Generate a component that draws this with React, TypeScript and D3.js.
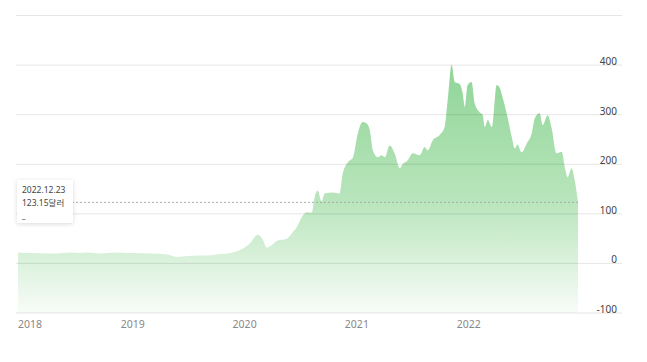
import React from "react";
import * as d3 from "d3";

const dates: string[] = [
  "2017-12-23","2018-01-20","2018-02-10","2018-03-28","2018-05-01","2018-06-11","2018-07-10","2018-08-05","2018-09-16","2018-10-15","2018-11-11","2018-12-10",
  "2019-01-02","2019-02-26","2019-04-23","2019-05-29","2019-06-27","2019-08-08","2019-08-31","2019-10-03","2019-11-24","2019-12-27",
  "2020-01-18","2020-02-13","2020-02-29","2020-03-13","2020-04-01","2020-04-18","2020-05-17","2020-06-06","2020-06-19","2020-07-05","2020-07-21","2020-08-07","2020-08-16","2020-08-26","2020-09-08","2020-09-18","2020-10-14","2020-11-06","2020-11-16","2020-12-09","2020-12-18",
  "2021-01-04","2021-01-20","2021-02-02","2021-02-12","2021-02-22","2021-03-10","2021-03-23","2021-04-02","2021-04-18","2021-05-04","2021-05-21","2021-05-30","2021-06-16","2021-07-02","2021-07-25","2021-08-10","2021-08-20","2021-09-05","2021-09-28","2021-10-14","2021-10-24","2021-11-06","2021-11-16","2021-12-02","2021-12-12","2021-12-19","2021-12-28",
  "2022-01-10","2022-01-20","2022-02-05","2022-02-15","2022-02-22","2022-03-04","2022-03-17","2022-04-02","2022-04-12","2022-04-21","2022-05-08","2022-05-21","2022-05-31","2022-06-09","2022-06-22","2022-07-09","2022-07-25","2022-08-04","2022-08-20","2022-08-30","2022-09-15","2022-09-28","2022-10-14","2022-10-31","2022-11-10","2022-11-19","2022-12-02","2022-12-12","2022-12-23"
];
const prices: number[] = [
  22,21,21,20,20,22,21,22,20,21,22,21,
  21,20,18,13,15,16,16,18,22,30,
  40,58,48,32,38,46,50,63,73,93,103,102,133,147,125,141,143,141,182,208,212,
  262,285,282,269,228,214,218,214,238,222,192,200,208,222,218,235,228,248,259,275,329,400,366,362,343,315,360,
  366,323,305,300,275,289,275,360,354,335,293,255,232,240,224,242,262,293,303,279,299,273,222,225,194,174,192,168,123.15
];
const yTicks: number[] = [-100, 0, 100, 200, 300, 400, 500];
const yearTicks: string[] = ["2018", "2019", "2020", "2021", "2022"];
const tipDate = "2022.12.23";
const tipValue = "123.15달러";
const lastValue = 123.15;

export default function App() {
  const parse = d3.timeParse("%Y-%m-%d");
  const data = dates.map((d, i) => ({ date: parse(d) as Date, v: prices[i] }));
  const x = d3.scaleTime()
    .domain([data[0].date, data[data.length - 1].date])
    .range([18, 578]);
  const y = d3.scaleLinear().domain([-100, 500]).range([313, 15.5]);
  const area = d3.area<{ date: Date; v: number }>()
    .x(d => x(d.date))
    .y0(y(-100))
    .y1(d => y(d.v))
    .curve(d3.curveMonotoneX);
  const font = "'Noto Sans', 'Noto Sans CJK KR', sans-serif";
  return (
    <svg width={647} height={362} style={{ position: "absolute", left: 0, top: 0, background: "#fff" }}>
      <defs>
        <linearGradient id="g" gradientUnits="userSpaceOnUse" x1={0} x2={0} y1={y(400)} y2={y(-100)}>
          <stop offset="0%" stopColor="#8fd597" />
          <stop offset="55%" stopColor="#b9e5bc" />
          <stop offset="100%" stopColor="#f8fcf8" />
        </linearGradient>
        <filter id="sh" x="-30%" y="-30%" width="160%" height="160%">
          <feDropShadow dx="0" dy="1" stdDeviation="2" floodColor="#000" floodOpacity="0.15" />
        </filter>
      </defs>
      <path d={area(data) || ""} fill="url(#g)" />
      {yTicks.map(t => (
        <line key={t} x1={16} x2={622} y1={y(t)} y2={y(t)} stroke="rgba(0,0,0,0.1)" strokeWidth={1} />
      ))}
      {yTicks.filter(t => t !== 500).map(t => (
        <text key={t} x={617} y={y(t)} textAnchor="end" fontSize={10} fill="#444" fontFamily={font}>{t}</text>
      ))}
      {yearTicks.map((yr, i) => {
        const px = x(new Date(+yr, 0, 1));
        return (
          <text key={yr} x={i === 0 ? 18 : px} y={328} textAnchor={i === 0 ? "start" : "middle"} fontSize={10.5} fill="#888" fontFamily={font}>{yr}</text>
        );
      })}
      <line x1={72} x2={578} y1={y(lastValue)} y2={y(lastValue)} stroke="#aaa" strokeDasharray="2,2" strokeWidth={1} />
      <g filter="url(#sh)">
        <rect x={17} y={180} width={56} height={43} fill="#fff" />
      </g>
      <text x={22} y={193} fontSize={8.5} fill="#444" fontFamily={font}>{tipDate}</text>
      <text x={22} y={206} fontSize={8.5} fill="#444" fontFamily={font}>{tipValue}</text>
      <text x={22} y={218} fontSize={8} fill="#444" fontFamily={font}>_</text>
    </svg>
  );
}
